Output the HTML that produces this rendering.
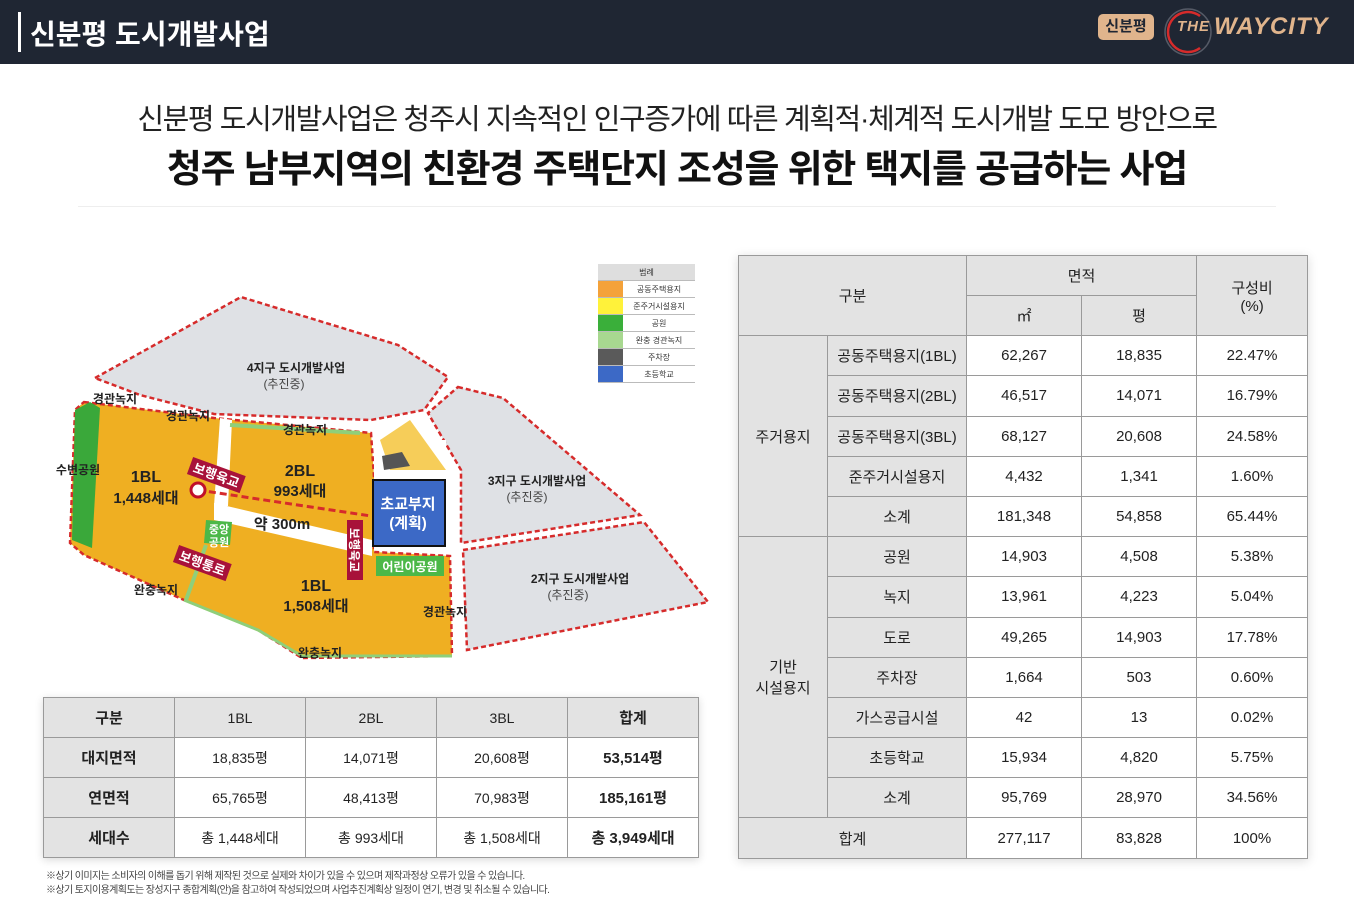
<!DOCTYPE html>
<html><head><meta charset="utf-8">
<style>
*{margin:0;padding:0;box-sizing:border-box}
body{width:1354px;height:900px;background:#fff;font-family:"Liberation Sans","Noto Sans CJK KR",sans-serif;position:relative;overflow:hidden;color:#222}
.hdr{position:absolute;left:0;top:0;width:1354px;height:64px;background:#1f2633}
.hdr .bar{position:absolute;left:18px;top:12px;width:3px;height:40px;background:#fff}
.hdr .t{position:absolute;left:30px;top:13px;font-size:28px;font-weight:bold;color:#fff;letter-spacing:0}
.logo1{position:absolute;left:1098px;top:14px;width:56px;height:26px;background:#e0b48c;border-radius:5px;font-size:15px;font-weight:bold;color:#1f2633;text-align:center;line-height:26px}
.logo2{position:absolute;left:1214px;top:13px;font-size:24px;font-weight:bold;font-style:italic;color:#e0b48c;letter-spacing:1px}
.l1{position:absolute;left:0;width:1354px;top:96px;text-align:center;font-size:29px;letter-spacing:-1.4px;color:#222}
.l2{position:absolute;left:0;width:1354px;top:138px;text-align:center;font-size:38px;font-weight:bold;letter-spacing:-1.2px;color:#111}
.sep{position:absolute;left:78px;top:206px;width:1198px;height:1px;background:#eee}
table{border-collapse:collapse;position:absolute;table-layout:fixed}
td{border:1px solid #9a9a9a;text-align:center;font-size:15px;color:#222}
.bt{left:43px;top:697px;width:656px;box-shadow:0 2px 8px rgba(0,0,0,.15)}
.bt td{height:40px;font-size:14px}
.g{background:#e3e3e3}
.bt td.b{font-weight:bold;font-size:15px}
.rt{left:738px;top:255px;width:569px;box-shadow:0 2px 10px rgba(0,0,0,.15)}
.rt td{height:40.2px}
.note{position:absolute;left:46px;font-size:10px;color:#444;letter-spacing:-0.6px}
.lg{position:absolute;left:598px;top:264px;width:97px;font-size:8px}
.lg div{height:17px;border-bottom:1px solid #bbb;display:flex}
.lg span{display:block;width:25px}
.lg i{flex:1;text-align:center;line-height:17px;font-style:normal;color:#333}
</style></head><body>
<div class="hdr"><div class="bar"></div><div class="t">신분평 도시개발사업</div>
<div class="logo1">신분평</div>
<svg style="position:absolute;left:1160px;top:4px" width="56" height="56"><circle cx="28" cy="28" r="23" fill="none" stroke="#555a66" stroke-width="1.5"/><path d="M40 12 A20 20 0 1 0 40 44" fill="none" stroke="#d62b2b" stroke-width="2.5"/></svg>
<div class="logo2" style="left:1177px;font-size:15px;top:18px">THE</div>
<div class="logo2">WAYCITY</div></div>
<div class="l1">신분평 도시개발사업은 청주시 지속적인 인구증가에 따른 계획적·체계적 도시개발 도모 방안으로</div>
<div class="l2">청주 남부지역의 친환경 주택단지 조성을 위한 택지를 공급하는 사업</div>
<div class="sep"></div>

<svg style="position:absolute;left:0;top:0" width="730" height="690" font-family="Liberation Sans,Noto Sans CJK KR,sans-serif">
<g fill="#dfe1e5" stroke="#d62b2b" stroke-width="2.5" stroke-dasharray="5,3">
<polygon points="95,378 241,297 398,345 448,377 424,410 371,420 214,414 140,395"/>
<polygon points="458,387 503,398 640,515 461,543 461,470 428,413"/>
<polygon points="463,550 644,522 708,602 467,650"/>
</g>
<polygon points="84,402 214,418 371,433 374,477 374,552 450,556 452,656 302,658 258,630 184,600 84,555 70,543 75,410" fill="#efaf22" stroke="#d62b2b" stroke-width="2.5" stroke-dasharray="5,3"/>
<polygon points="75,410 90,402 100,408 92,548 72,540" fill="#3aa83a"/>
<polygon points="220,418 232,420 228,506 214,506" fill="#fff"/>
<polygon points="214,503 372,540 372,556 214,520" fill="#fff"/>
<rect x="374" y="440" width="72" height="110" fill="#fff"/>
<polygon points="380,440 410,420 446,470 390,470" fill="#f4c030" opacity=".8"/>
<polygon points="382,456 402,452 410,466 384,470" fill="#555"/>
<rect x="373" y="480" width="72" height="66" fill="#3c69c6" stroke="#111" stroke-width="2"/>
<rect x="376" y="556" width="68" height="20" fill="#4cb848"/>
<polygon points="206,520 232,522 230,545 204,543" fill="#4cb848"/>
<line x1="206" y1="545" x2="186" y2="600" stroke="#8fcf7a" stroke-width="4"/>
<polyline points="184,600 258,630 302,656 452,656" fill="none" stroke="#8fcf7a" stroke-width="3"/>
<line x1="230" y1="425" x2="360" y2="433" stroke="#8fcf7a" stroke-width="4"/>
<line x1="198" y1="490" x2="371" y2="516" stroke="#d62b2b" stroke-width="3" stroke-dasharray="7,4"/>
<circle cx="198" cy="490" r="7" fill="#fff" stroke="#c0102a" stroke-width="3"/>
<g transform="rotate(20 216 476)"><rect x="188" y="466" width="56" height="18" fill="#a8123a"/><text x="216" y="480" fill="#fff" font-size="13" font-weight="bold" text-anchor="middle">보행육교</text></g>
<g transform="rotate(20 202 564)"><rect x="174" y="554" width="56" height="18" fill="#a8123a"/><text x="202" y="568" fill="#fff" font-size="13" font-weight="bold" text-anchor="middle">보행통로</text></g>
<g transform="rotate(90 355 550)"><rect x="325" y="542" width="60" height="16" fill="#a8123a"/><text x="355" y="555" fill="#fff" font-size="12" font-weight="bold" text-anchor="middle">보행육교</text></g>
<g font-weight="bold" text-anchor="middle" fill="#222">
<text x="146" y="482" font-size="16">1BL</text><text x="146" y="503" font-size="15">1,448세대</text>
<text x="300" y="476" font-size="16">2BL</text><text x="300" y="496" font-size="15">993세대</text>
<text x="316" y="591" font-size="16">1BL</text><text x="316" y="611" font-size="15">1,508세대</text>
<text x="282" y="529" font-size="15">약 300m</text>
<text x="408" y="509" font-size="15" fill="#fff">초교부지</text><text x="408" y="528" font-size="15" fill="#fff">(계획)</text>
<text x="410" y="571" font-size="12" fill="#fff">어린이공원</text>
<text x="219" y="533" font-size="11" fill="#fff">중앙</text><text x="219" y="546" font-size="11" fill="#fff">공원</text>
<g font-size="12"><text x="115" y="403">경관녹지</text><text x="188" y="420">경관녹지</text><text x="305" y="434">경관녹지</text><text x="78" y="474">수변공원</text><text x="156" y="594">완충녹지</text><text x="320" y="657">완충녹지</text><text x="445" y="616">경관녹지</text>
<text x="296" y="372">4지구 도시개발사업</text><text x="537" y="485">3지구 도시개발사업</text><text x="580" y="583">2지구 도시개발사업</text></g>
<g font-size="12" font-weight="normal" fill="#444"><text x="284" y="388">(추진중)</text><text x="527" y="501">(추진중)</text><text x="568" y="599">(추진중)</text></g>
</g></svg>
<div class="lg"><div style="background:#dedede"><i>범례</i></div>
<div><span style="background:#f4a23a"></span><i>공동주택용지</i></div>
<div><span style="background:#fff23a"></span><i>준주거시설용지</i></div>
<div><span style="background:#3aaf3a"></span><i>공원</i></div>
<div><span style="background:#a8d890"></span><i>완충 경관녹지</i></div>
<div><span style="background:#5a5a5a"></span><i>주차장</i></div>
<div><span style="background:#3c69c6"></span><i>초등학교</i></div></div>

<table class="bt">
<tr class="g"><td class="b">구분</td><td>1BL</td><td>2BL</td><td>3BL</td><td class="b">합계</td></tr>
<tr><td class="g b">대지면적</td><td>18,835평</td><td>14,071평</td><td>20,608평</td><td class="b">53,514평</td></tr>
<tr><td class="g b">연면적</td><td>65,765평</td><td>48,413평</td><td>70,983평</td><td class="b">185,161평</td></tr>
<tr><td class="g b">세대수</td><td>총 1,448세대</td><td>총 993세대</td><td>총 1,508세대</td><td class="b">총 3,949세대</td></tr>
</table>
<div class="note" style="top:867px">※상기 이미지는 소비자의 이해를 돕기 위해 제작된 것으로 실제와 차이가 있을 수 있으며 제작과정상 오류가 있을 수 있습니다.</div>
<div class="note" style="top:881px">※상기 토지이용계획도는 장성지구 종합계획(안)을 참고하여 작성되었으며 사업추진계획상 일정이 연기, 변경 및 취소될 수 있습니다.</div>

<table class="rt">
<colgroup><col style="width:89px"><col style="width:139px"><col style="width:115px"><col style="width:115px"><col style="width:111px"></colgroup>
<tr class="g"><td colspan="2" rowspan="2">구분</td><td colspan="2" style="height:40px">면적</td><td rowspan="2">구성비<br>(%)</td></tr>
<tr class="g"><td style="height:40px">㎡</td><td>평</td></tr>
<tr><td rowspan="5" class="g">주거용지</td><td class="g">공동주택용지(1BL)</td><td>62,267</td><td>18,835</td><td>22.47%</td></tr>
<tr><td class="g">공동주택용지(2BL)</td><td>46,517</td><td>14,071</td><td>16.79%</td></tr>
<tr><td class="g">공동주택용지(3BL)</td><td>68,127</td><td>20,608</td><td>24.58%</td></tr>
<tr><td class="g">준주거시설용지</td><td>4,432</td><td>1,341</td><td>1.60%</td></tr>
<tr><td class="g">소계</td><td>181,348</td><td>54,858</td><td>65.44%</td></tr>
<tr><td rowspan="7" class="g">기반<br>시설용지</td><td class="g">공원</td><td>14,903</td><td>4,508</td><td>5.38%</td></tr>
<tr><td class="g">녹지</td><td>13,961</td><td>4,223</td><td>5.04%</td></tr>
<tr><td class="g">도로</td><td>49,265</td><td>14,903</td><td>17.78%</td></tr>
<tr><td class="g">주차장</td><td>1,664</td><td>503</td><td>0.60%</td></tr>
<tr><td class="g">가스공급시설</td><td>42</td><td>13</td><td>0.02%</td></tr>
<tr><td class="g">초등학교</td><td>15,934</td><td>4,820</td><td>5.75%</td></tr>
<tr><td class="g">소계</td><td>95,769</td><td>28,970</td><td>34.56%</td></tr>
<tr><td colspan="2" class="g">합계</td><td>277,117</td><td>83,828</td><td>100%</td></tr>
</table>
</body></html>
